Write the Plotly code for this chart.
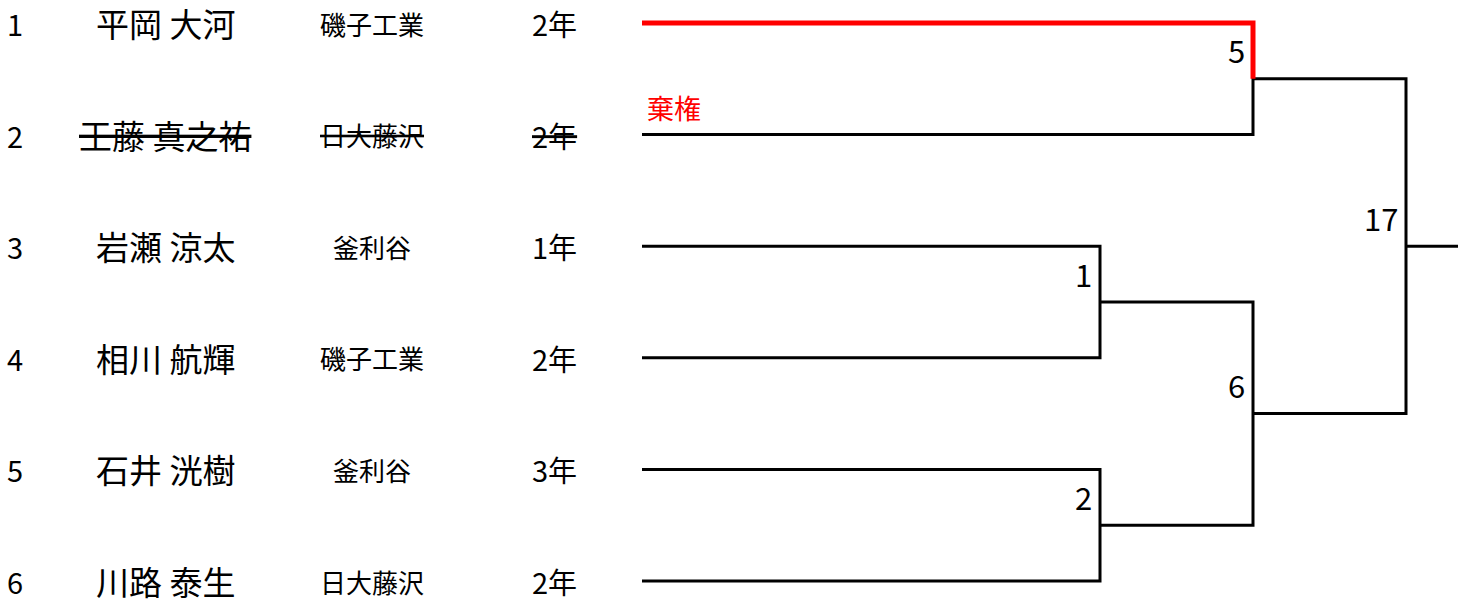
import plotly.graph_objects as go

# ---- data ----
rows = [1, 2, 3, 4, 5, 6]
seeds = ["1", "2", "3", "4", "5", "6"]
names = ["平岡 大河", "王藤 真之祐", "岩瀬 涼太", "相川 航輝", "石井 洸樹", "川路 泰生"]
schools = ["磯子工業", "日大藤沢", "釜利谷", "磯子工業", "釜利谷", "日大藤沢"]
grades = ["2年", "2年", "1年", "2年", "3年", "2年"]
withdrawn = [False, True, False, False, False, False]

# match label, top slot y, bottom slot y, round from, round to
match_labels = ["1", "2", "5", "6", "17"]
match_top = [3, 5, 1, 3.5, 1.5]
match_bot = [4, 6, 2, 5.5, 4.5]
match_round_from = [0, 0, 0, 1, 2]
match_round_to = [1, 1, 2, 2, 3]
final_y = 3.0
default_note = "棄権"
default_row = 2

# column x positions (pixel-like axis units)
col_seed, col_name, col_school, col_grade = 15, 165, 372, 554
round_x = [642, 1100, 1253, 1406, 1458]

W, H = 1466, 599
top_px, step_px = 23, 111.6
y0 = 1 - top_px / step_px
y1 = y0 + H / step_px

FONT = "Noto Sans CJK JP"
fig = go.Figure()

# bracket lines
for lab, t, b, rf, rt in zip(match_labels, match_top, match_bot, match_round_from, match_round_to):
    xs = [round_x[rf], round_x[rt], round_x[rt], round_x[rf]]
    ys = [t, t, b, b]
    fig.add_trace(go.Scatter(x=xs, y=ys, mode="lines",
                             line=dict(color="black", width=3), hoverinfo="skip"))
    fig.add_annotation(x=round_x[rt], y=(t + b) / 2, text=lab, showarrow=False,
                       xanchor="right", yanchor="middle", xshift=-6, yshift=29,
                       font=dict(family=FONT, size=31, color="black"))

fig.add_trace(go.Scatter(x=[round_x[3], round_x[4]], y=[final_y, final_y], mode="lines",
                         line=dict(color="black", width=3), hoverinfo="skip"))

# winner path (walkover) in red
fig.add_trace(go.Scatter(x=[round_x[0], round_x[2], round_x[2]], y=[1, 1, 1.5], mode="lines",
                         line=dict(color="#ff0000", width=5), hoverinfo="skip"))

fig.add_annotation(x=round_x[0], y=default_row, text=default_note, showarrow=False,
                   xanchor="left", yanchor="middle", xshift=3, yshift=27,
                   font=dict(family=FONT, size=27, color="#ff0000"))

# player texts
for r, s, n, sc, g, wd in zip(rows, seeds, names, schools, grades, withdrawn):
    def fmt(t):
        return f"<s>{t}</s>" if wd else t
    fig.add_annotation(x=col_seed, y=r, text=s, showarrow=False, xanchor="center", yanchor="middle",
                       font=dict(family=FONT, size=29, color="black"))
    fig.add_annotation(x=col_name, y=r, text=fmt(n), showarrow=False, xanchor="center", yanchor="middle",
                       font=dict(family=FONT, size=33, color="black"))
    fig.add_annotation(x=col_school, y=r, text=fmt(sc), showarrow=False, xanchor="center", yanchor="middle",
                       font=dict(family=FONT, size=26, color="black"))
    fig.add_annotation(x=col_grade, y=r, text=fmt(g), showarrow=False, xanchor="center", yanchor="middle",
                       font=dict(family=FONT, size=29, color="black"))

fig.update_layout(
    width=W, height=H, margin=dict(l=0, r=0, t=0, b=0),
    paper_bgcolor="white", plot_bgcolor="white", showlegend=False,
    xaxis=dict(range=[0, W], visible=False, fixedrange=True),
    yaxis=dict(range=[y1, y0], visible=False, fixedrange=True),
)
fig.write_html("out.html", config={"displayModeBar": False},
               post_script="document.body.style.margin='0';document.body.style.overflow='hidden';")
